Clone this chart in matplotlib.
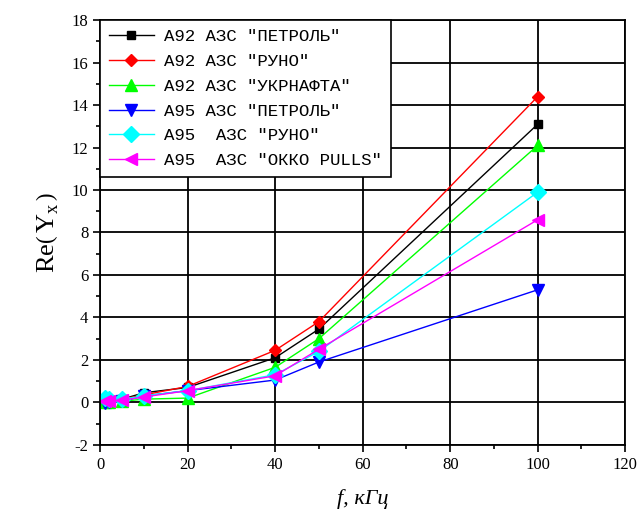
import numpy as np
import matplotlib.pyplot as plt
from matplotlib.ticker import MultipleLocator

plt.rcParams['mathtext.fontset'] = 'custom'
plt.rcParams['mathtext.rm'] = 'Liberation Serif'
plt.rcParams['mathtext.it'] = 'Liberation Serif:italic'
plt.rcParams['axes.unicode_minus'] = False

# частоты, кГц
f_khz = [1, 2, 5, 10, 20, 40, 50, 100]

# Re(Yx) для каждого образца
a92_petrol = [0.05, 0.08, 0.15, 0.45, 0.70, 2.10, 3.45, 13.1]
a92_runo = [0.05, 0.08, 0.15, 0.35, 0.75, 2.45, 3.80, 14.4]
a92_ukrnafta = [0.00, 0.02, 0.05, 0.15, 0.20, 1.65, 3.00, 12.1]
a95_petrol = [-0.05, 0.00, 0.05, 0.30, 0.55, 1.05, 1.90, 5.3]
a95_runo = [0.20, 0.15, 0.15, 0.30, 0.55, 1.30, 2.40, 9.9]
a95_okko = [0.05, 0.05, 0.10, 0.25, 0.55, 1.25, 2.50, 8.6]

labels = ['A92 АЗС "ПЕТРОЛЬ"', 'A92 АЗС "РУНО"', 'A92 АЗС "УКРНАФТА"',
          'A95 АЗС "ПЕТРОЛЬ"', 'A95  АЗС "РУНО"', 'A95  АЗС "ОККО PULLS"']

series = [a92_petrol, a92_runo, a92_ukrnafta, a95_petrol, a95_runo, a95_okko]
colors = ['black', 'red', '#00ff00', 'blue', 'cyan', 'magenta']
markers = ['s', 'D', '^', 'v', 'D', '<']
msizes = [6, 6, 8, 8, 8, 8]

fig = plt.figure(figsize=(6.38, 5.16), dpi=100)
ax = fig.add_axes([0.157, 0.138, 0.823, 0.823])

for y, c, m, ms, lab in zip(series, colors, markers, msizes, labels):
    ax.plot(f_khz, y, color=c, marker=m, markersize=ms, linewidth=1, label=lab)

ax.set_xlim(0, 120)
ax.set_ylim(-2, 18)
ax.xaxis.set_major_locator(MultipleLocator(20))
ax.xaxis.set_minor_locator(MultipleLocator(10))
ax.yaxis.set_major_locator(MultipleLocator(2))
ax.yaxis.set_minor_locator(MultipleLocator(1))

ax.grid(True, which='major', color='black', linewidth=1.3)
ax.set_axisbelow(True)
ax.tick_params(which='both', direction='out', top=False, right=False)
ax.tick_params(which='major', length=5, width=1.2, labelsize=12)
ax.tick_params(which='minor', length=3, width=1.2)
for lbl in ax.get_xticklabels() + ax.get_yticklabels():
    lbl.set_family('Liberation Serif')
for s in ax.spines.values():
    s.set_linewidth(1.3)

ax.set_xlabel('f, кГц', fontsize=16, family='Liberation Serif', style='italic', labelpad=12)
ax.set_ylabel(r'$\mathrm{Re}\left(\,\mathrm{Y_x}\,\right)$', fontsize=19, labelpad=8)

leg = ax.legend(loc='upper left', borderaxespad=0, fancybox=False, framealpha=1,
                edgecolor='black', prop={'family': 'Liberation Mono', 'size': 12.5},
                handlelength=2.6, labelspacing=0.56, borderpad=0.5, handletextpad=0.6)
leg.get_frame().set_linewidth(1.2)

fig.savefig('out.png', dpi=100)
